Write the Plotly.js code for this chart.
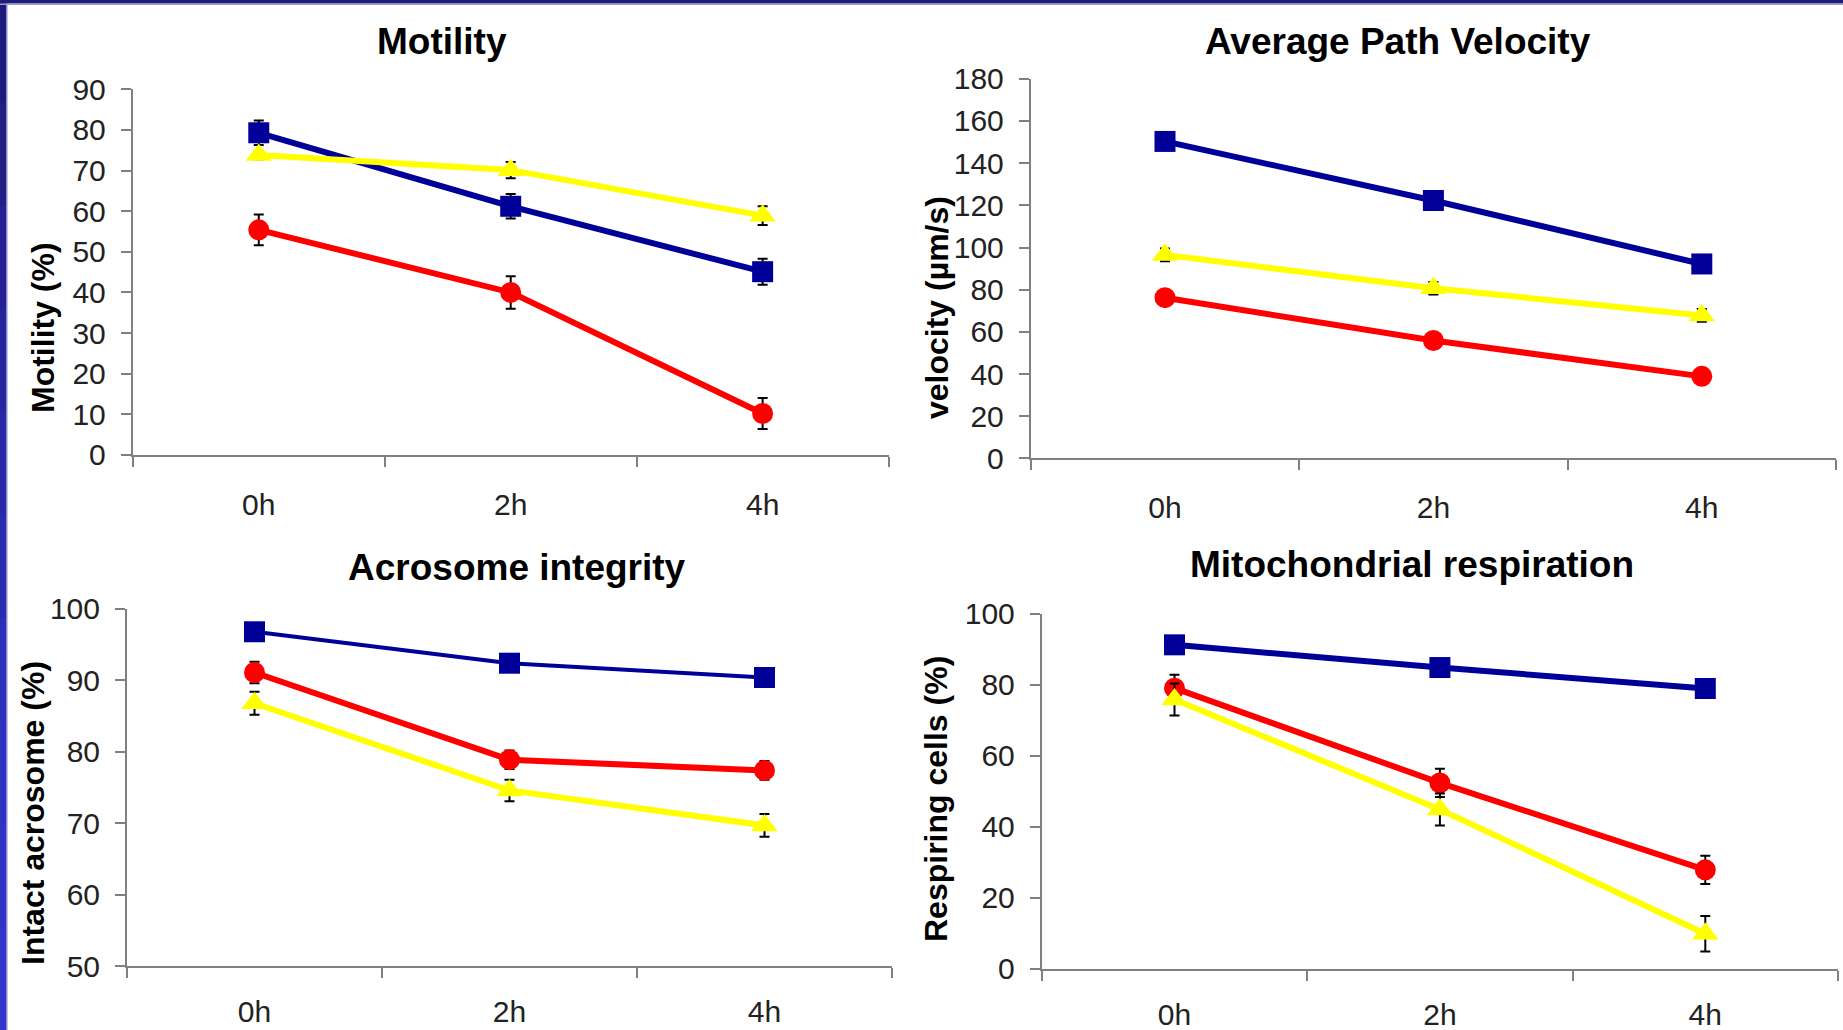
<!DOCTYPE html>
<html>
<head>
<meta charset="utf-8">
<script src="https://cdn.plot.ly/plotly-3.0.1.min.js"></script>
<style>
  html, body { margin: 0; padding: 0; background: #ffffff; }
  #chart { width: 1843px; height: 1030px; }
</style>
</head>
<body>
<div id="chart"></div>
<script>
// ---------- data ----------
const categories = ['0h', '2h', '4h'];

const panelTitles = ['Motility', 'Average Path Velocity', 'Acrosome integrity', 'Mitochondrial respiration'];
const yTitles = ['Motility (%)', 'velocity (µm/s)', 'Intact acrosome (%)', 'Respiring cells (%)'];

// Motility (%)
const motilityBlue = [79.3, 61.2, 45.1];
const motilityBlueErr = [3.0, 3.0, 3.2];
const motilityRed = [55.4, 40.0, 10.2];
const motilityRedErr = [3.8, 4.0, 3.8];
const motilityYellow = [73.8, 70.1, 58.9];
const motilityYellowErr = [1.0, 2.0, 2.3];

// Average path velocity (µm/s)
const velocityBlue = [150.3, 122.3, 92.2];
const velocityBlueErr = [2.0, 3.0, 3.0];
const velocityRed = [76.2, 55.9, 38.9];
const velocityRedErr = [1.0, 1.0, 1.0];
const velocityYellow = [96.5, 80.7, 67.8];
const velocityYellowErr = [3.0, 3.0, 3.0];

// Acrosome integrity (%)
const acrosomeBlue = [96.8, 92.4, 90.4];
const acrosomeBlueErr = [0.5, 0.5, 0.5];
const acrosomeRed = [91.1, 78.9, 77.4];
const acrosomeRedErr = [1.5, 1.3, 1.3];
const acrosomeYellow = [86.8, 74.6, 69.7];
const acrosomeYellowErr = [1.6, 1.5, 1.6];

// Mitochondrial respiration (%)
const respirationBlue = [91.2, 84.8, 78.9];
const respirationBlueErr = [1.0, 1.0, 1.0];
const respirationRed = [79.0, 52.3, 27.8];
const respirationRedErr = [3.8, 4.0, 4.0];
const respirationYellow = [75.8, 44.8, 9.8];
const respirationYellowErr = [4.5, 4.5, 5.0];

// axis ranges and tick steps
const yRanges = [[0, 90], [0, 180], [50, 100], [0, 100]];
const yDtick = [10, 20, 10, 20];

// ---------- styling ----------
const W = 1843, H = 1030;
const FONT = 'Liberation Sans, Arial, Helvetica, sans-serif';
const BLUE = '#000099', RED = '#ff0000', YELLOW = '#ffff00';

// plot areas in pixels: [left, right, top, bottom]
const boxes = [
  [132.8, 888.6, 89.3, 454.9],
  [1030.8, 1836.0, 78.8, 458.4],
  [127.0, 892.0, 608.9, 966.2],
  [1041.8, 1838.0, 613.6, 968.5]
];
const lineWidths = [[6, 6, 6], [6, 6, 6], [4, 6, 6], [6, 6, 6]];
const xLabelStandoff = [22, 22, 18, 18];

const seriesSets = [
  [[motilityBlue, motilityBlueErr], [motilityRed, motilityRedErr], [motilityYellow, motilityYellowErr]],
  [[velocityBlue, velocityBlueErr], [velocityRed, velocityRedErr], [velocityYellow, velocityYellowErr]],
  [[acrosomeBlue, acrosomeBlueErr], [acrosomeRed, acrosomeRedErr], [acrosomeYellow, acrosomeYellowErr]],
  [[respirationBlue, respirationBlueErr], [respirationRed, respirationRedErr], [respirationYellow, respirationYellowErr]]
];
const seriesStyle = [
  {color: BLUE, symbol: 'square', size: 21},
  {color: RED, symbol: 'circle', size: 21},
  {color: YELLOW, symbol: 'triangle-up', size: 23}
];

const traces = [];
const layout = {
  width: W, height: H,
  margin: {l: 0, r: 0, t: 0, b: 0},
  paper_bgcolor: '#ffffff',
  plot_bgcolor: 'rgba(0,0,0,0)',
  showlegend: false,
  font: {family: FONT, color: '#222'},
  annotations: [],
  shapes: []
};

seriesSets.forEach((set, p) => {
  const n = p === 0 ? '' : String(p + 1);
  set.forEach((s, k) => {
    traces.push({
      type: 'scatter', mode: 'lines+markers',
      x: categories, y: s[0],
      xaxis: 'x' + n, yaxis: 'y' + n,
      line: {color: seriesStyle[k].color, width: lineWidths[p][k]},
      marker: {color: seriesStyle[k].color, symbol: seriesStyle[k].symbol, size: seriesStyle[k].size},
      error_y: {type: 'data', array: s[1], visible: true, color: '#000000', thickness: 2, width: 5},
      cliponaxis: false,
      hoverinfo: 'x+y'
    });
  });
  const b = boxes[p];
  layout['xaxis' + n] = {
    domain: [b[0] / W, b[1] / W],
    anchor: 'y' + n,
    type: 'category',
    range: [-0.5, 2.5],
    showline: true, linecolor: '#808080', linewidth: 2,
    ticks: 'outside', tickson: 'boundaries', ticklen: 10, tickcolor: '#808080', tickwidth: 2,
    tickfont: {family: FONT, size: 30, color: '#222'},
    ticklabelstandoff: xLabelStandoff[p],
    showgrid: false, zeroline: false, fixedrange: true
  };
  layout['yaxis' + n] = {
    domain: [1 - b[3] / H, 1 - b[2] / H],
    anchor: 'x' + n,
    range: yRanges[p],
    dtick: yDtick[p], tick0: 0,
    showline: true, linecolor: '#808080', linewidth: 2,
    ticks: 'outside', ticklen: 10, tickcolor: '#808080', tickwidth: 2,
    tickfont: {family: FONT, size: 30, color: '#222'},
    ticklabelstandoff: 9,
    showgrid: false, zeroline: false, fixedrange: true
  };
});

// panel titles (centre positions in px)
const titlePos = [[442, 42], [1397.6, 42], [517, 567], [1411.5, 564.5]];
panelTitles.forEach((t, i) => {
  layout.annotations.push({
    text: t, xref: 'paper', yref: 'paper',
    x: titlePos[i][0] / W, y: 1 - titlePos[i][1] / H,
    xanchor: 'center', yanchor: 'middle', showarrow: false,
    font: {family: FONT, size: 37, color: '#000', weight: 'bold'}
  });
});

// y axis titles (rotated)
const yTitlePos = [[43, 328], [937, 308], [33, 813], [936, 799]];
yTitles.forEach((t, i) => {
  layout.annotations.push({
    text: t, xref: 'paper', yref: 'paper',
    x: yTitlePos[i][0] / W, y: 1 - yTitlePos[i][1] / H,
    xanchor: 'center', yanchor: 'middle', showarrow: false, textangle: -90,
    font: {family: FONT, size: 32, color: '#000', weight: 'bold'}
  });
});

// slide frame: navy bar on top, blue gradient strip on the left
const leftColors = ['#1c1c78', '#1f1f84', '#222290', '#25259c', '#2828a6', '#2b2bb0', '#2e2eb9', '#3030c1', '#3232c7', '#3434cc'];
leftColors.forEach((c, i) => {
  layout.shapes.push({
    type: 'rect', xref: 'paper', yref: 'paper', layer: 'above',
    x0: 0, x1: 6 / W, y0: 1 - (i + 1) / leftColors.length, y1: 1 - i / leftColors.length,
    fillcolor: c, line: {width: 0}
  });
});
layout.shapes.push({type: 'rect', xref: 'paper', yref: 'paper', layer: 'above',
  x0: 6 / W, x1: 7.5 / W, y0: 0, y1: 1, fillcolor: '#8a8acc', line: {width: 0}});
layout.shapes.push({type: 'rect', xref: 'paper', yref: 'paper', layer: 'above',
  x0: 0, x1: 1, y0: 1 - 3.5 / H, y1: 1, fillcolor: '#1e1e78', line: {width: 0}});
layout.shapes.push({type: 'rect', xref: 'paper', yref: 'paper', layer: 'above',
  x0: 0, x1: 1, y0: 1 - 5 / H, y1: 1 - 3.5 / H, fillcolor: '#9a9acc', line: {width: 0}});

Plotly.newPlot('chart', traces, layout, {displayModeBar: false, staticPlot: true});
</script>
</body>
</html>
